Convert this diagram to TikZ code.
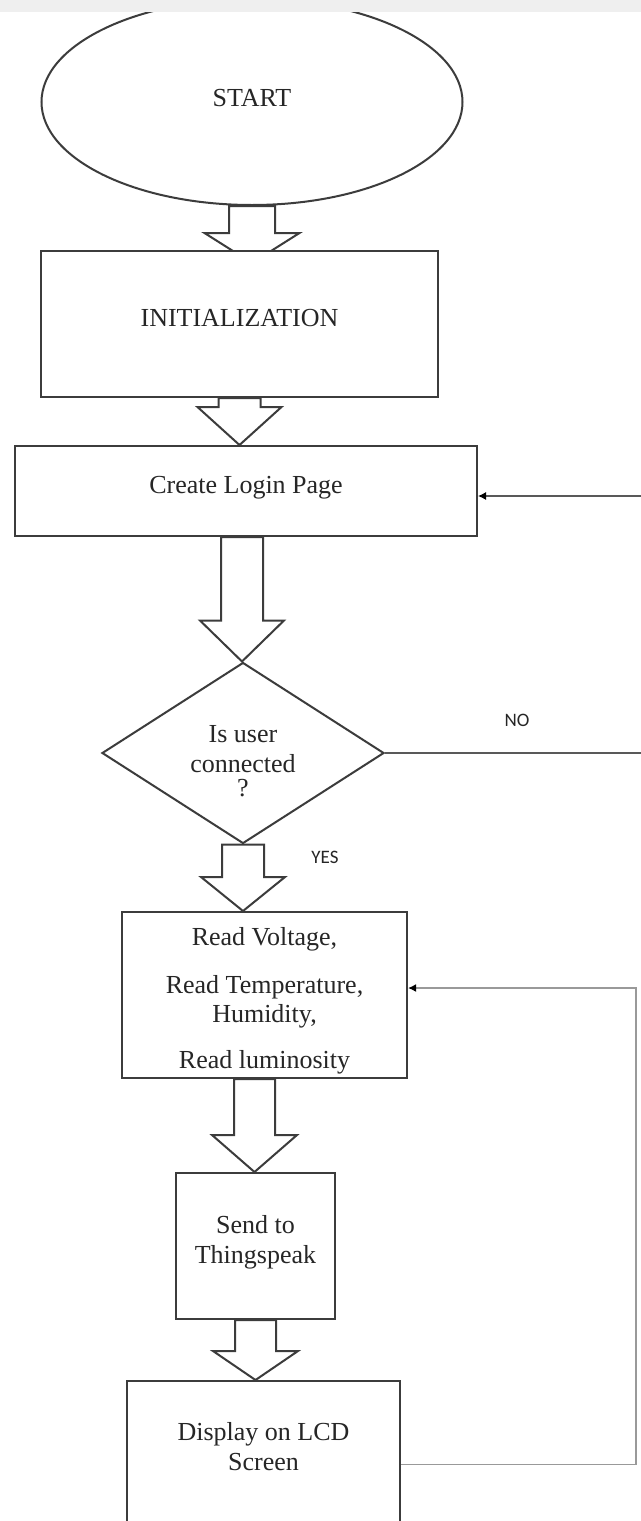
\documentclass[tikz,border=0pt]{standalone}
\usepackage{fontspec}
\setmainfont{Liberation Serif}
\newfontfamily\lblfont{Carlito}
\usepackage{tikz}
\usetikzlibrary{shapes.geometric,arrows.meta,calc}
\pgfdeclarelayer{back}
\pgfsetlayers{back,main}

\definecolor{edgegray}{HTML}{3C3C3C}
\definecolor{stripgray}{HTML}{EFEFEF}

\tikzset{
  procbox/.style={draw=edgegray, line width=1pt, fill=white, rectangle, inner sep=0pt,
    align=center, text=black!85, font=\fontsize{13}{15}\selectfont},
  termbox/.style={procbox, ellipse},
  decbox/.style={procbox, diamond, inner sep=-14pt},
  fatarrow/.style={draw=edgegray, line width=1pt, fill=white, line join=miter},
  noline/.style={draw=black!65, line width=0.6pt},
  loopline/.style={draw=black!40, line width=0.9pt},
  tipblack/.style={-{Latex[length=4pt,width=4pt,color=black]}},
  answer/.style={font=\lblfont\fontsize{9.5}{11}\selectfont, text=black!85},
}

% struts: push text up (extra depth) or down (extra height)
\newcommand{\upby}[1]{\rule[-#1]{0pt}{#1}}
\newcommand{\downby}[1]{\rule{0pt}{#1}}

% block arrow: start, tip, shaft half width, head half width, head length
\newcommand{\blockarrow}[5]{%
  \path #1 coordinate (ba-s) #2 coordinate (ba-e);
  \begin{pgfonlayer}{back}
  \draw[fatarrow] let \p1=(ba-s), \p2=(ba-e) in
    (\x1-#3,\y1) -- (\x1-#3,\y2+#5) -- (\x1-#4,\y2+#5) -- (\x1,\y2)
    -- (\x1+#4,\y2+#5) -- (\x1+#3,\y2+#5) -- (\x1+#3,\y1) -- cycle;
  \end{pgfonlayer}}

\begin{document}
\begin{tikzpicture}[x=0.5pt,y=-0.5pt]

  \useasboundingbox (0,0) rectangle (641,1521);
  \begin{pgfonlayer}{back}
    \fill[white] (0,0) rectangle (641,1521);
  \end{pgfonlayer}
  \clip (0,0) rectangle (641,1521);

  \node[termbox, minimum width=210.5pt, minimum height=103pt] (start) at (252,102)
    {START\upby{4pt}};
  \node[procbox, minimum width=198.5pt, minimum height=73pt] (init) at (239.5,324)
    {INITIALIZATION\upby{6pt}};
  \node[procbox, minimum width=231pt, minimum height=45pt] (login) at (246,491)
    {Create Login Page\upby{6pt}};
  \node[decbox, minimum width=141pt, minimum height=90.5pt] (dec) at (243,753)
    {\downby{17pt}Is user\\connected\\[-3pt]?};
  \node[procbox, minimum width=142.5pt, minimum height=83pt,
    font=\fontsize{13}{14.5}\selectfont] (read) at (264.5,995)
    {\downby{14.5pt}Read Voltage,\\[9.5pt]Read Temperature,\\Humidity,\\[8.5pt]Read luminosity};
  \node[procbox, minimum width=79.5pt, minimum height=73pt] (send) at (255.5,1246)
    {Send to\\Thingspeak\upby{7pt}};
  \node[procbox, minimum width=136.5pt, minimum height=71.5pt] (disp) at (263.5,1452.5)
    {Display on LCD\\Screen\upby{6.5pt}};

  \fill[stripgray] (0,0) rectangle (641,12);

  \blockarrow{(start.south)}{([yshift=-6.5pt]init.north)}{11.5pt}{23.75pt}{15pt}
  \blockarrow{(init.south)}{(login.north)}{10.5pt}{21pt}{19pt}
  \blockarrow{([xshift=-2pt]login.south)}{(dec.north)}{10.5pt}{21pt}{20.5pt}
  \blockarrow{(dec.south)}{(read.north)}{10.5pt}{21pt}{17pt}
  \blockarrow{([xshift=-5pt]read.south)}{(send.north)}{10.25pt}{21.25pt}{18.5pt}
  \blockarrow{(send.south)}{(disp.north)}{10.25pt}{21.25pt}{14.5pt}

  \node[answer] (nolbl) at (517,720) {NO};
  \node[answer] (yeslbl) at (325,857) {YES};

  \draw[noline, tipblack] (dec.east) -- ++(276,0) |- ([yshift=-2.5pt]login.east);
  \draw[loopline, tipblack] ([yshift=-6pt]disp.east) -- ++(235,0) |- ([yshift=3.5pt]read.east);

\end{tikzpicture}
\end{document}
